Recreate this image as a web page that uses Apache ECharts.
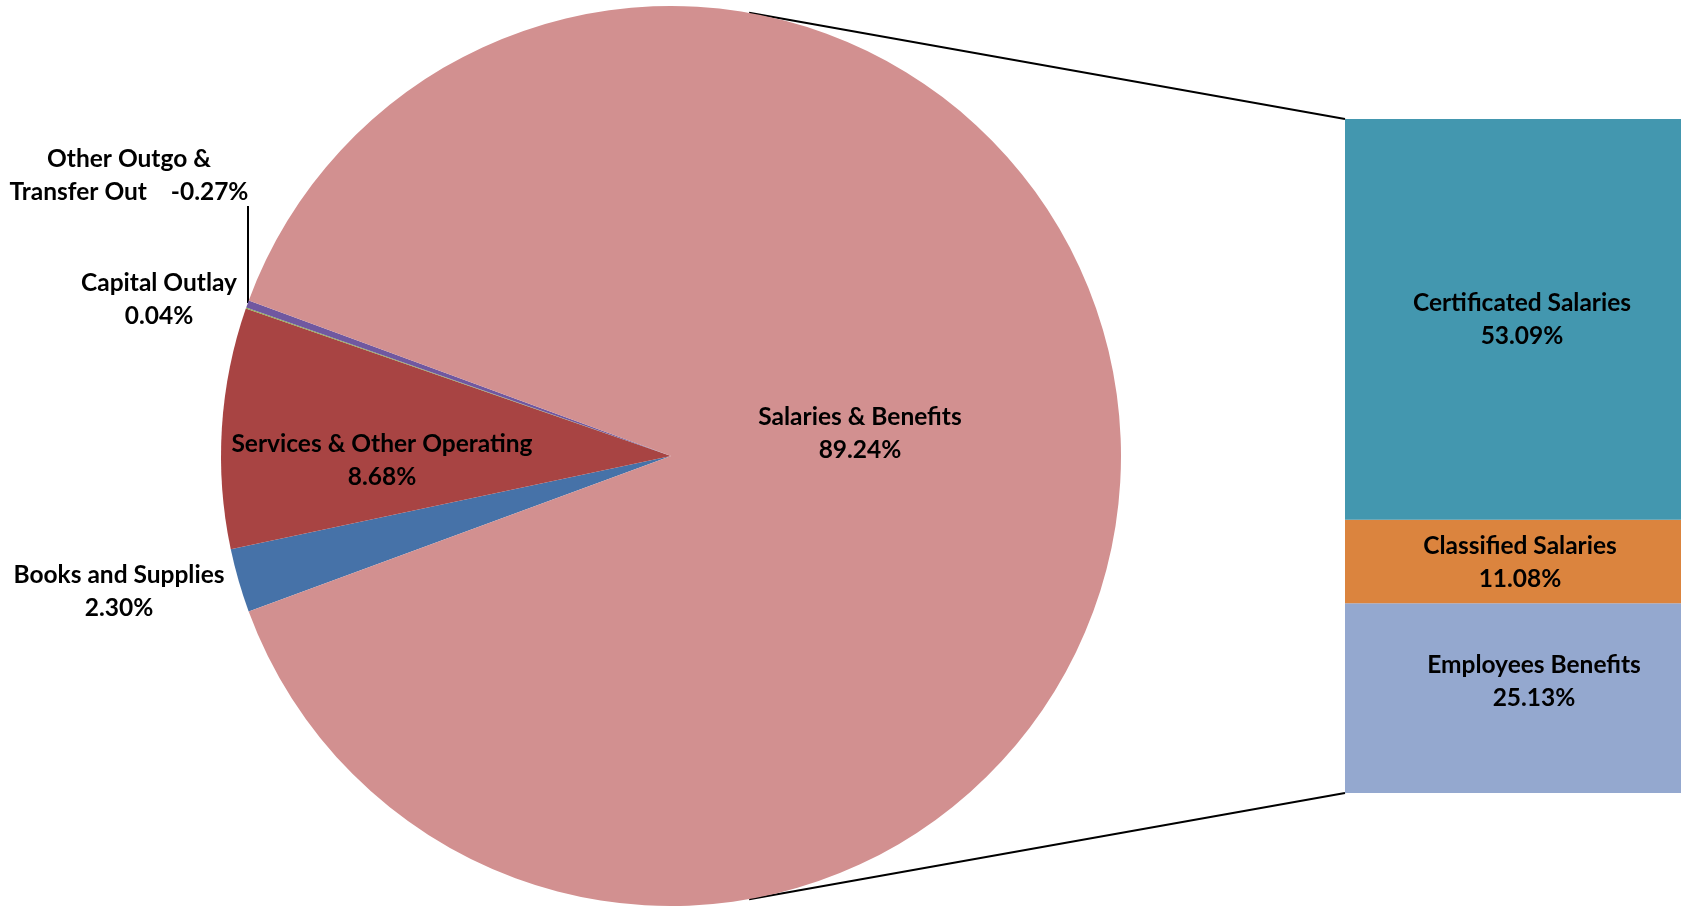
<!DOCTYPE html>
<html>
<head>
<meta charset="utf-8">
<script src="https://cdn.jsdelivr.net/npm/echarts@6/dist/echarts.min.js"></script>
<style>
html,body{margin:0;padding:0;background:#fff;}
#chart{width:1681px;height:906px;}
</style>
</head>
<body>
<div id="chart"></div>
<script>
// ---- data ----
const pieNames = ['Books and Supplies', 'Services & Other Operating', 'Capital Outlay', 'Other Outgo & Transfer Out', 'Salaries & Benefits'];
const piePercents = [2.30, 8.68, 0.04, -0.27, 89.24];
const pieColors = ['#4672A8', '#A84443', '#8FAE4E', '#7058A0', '#D29090'];

const barNames = ['Certificated Salaries', 'Classified Salaries', 'Employees Benefits'];
const barPercents = [53.09, 11.08, 25.13];
const barColors = ['#4397AF', '#DB843E', '#94A8CF'];

// ---- layout ----
const W = 1681, H = 906;
const CX = 671, CY = 456, R = 450;
const BAR_LEFT = 1345, BAR_TOP = 119, BAR_BOTTOM = 793;
const FONT = 'Lato';
const FS = 24.5, LH = 33;

// label centres, as offsets from the pie centre
const pieLabelPos = [
  [-552, 136],   // Books
  [-289, 5],     // Services
  [-512, -156],  // Capital
  [-542, -280],  // Other outgo
  [189, -22]     // Salaries
];
const barLabelOffset = [[9, 0], [7, 1], [21, -17]];

const fmtPct = v => v.toFixed(2) + '%';

const pieData = pieNames.map((n, i) => ({
  name: n,
  value: Math.abs(piePercents[i]),
  itemStyle: { color: pieColors[i] },
  label: {
    formatter: (i === 3 ? 'Other Outgo &\nTransfer Out    ' : n + '\n') + fmtPct(piePercents[i])
  },
  labelLine: { show: i === 3, lineStyle: { color: '#000', width: 2 } }
}));

const total = barPercents.reduce((a, b) => a + b, 0);
// stack from bottom: benefits, classified, certificated
const order = [2, 1, 0];
const barSeries = order.map(i => ({
  type: 'bar',
  name: barNames[i],
  stack: 's',
  barWidth: '100%',
  data: [barPercents[i]],
  itemStyle: { color: barColors[i] },
  silent: true,
  label: {
    show: true,
    position: 'inside',
    offset: barLabelOffset[i],
    formatter: barNames[i] + '\n' + fmtPct(barPercents[i]),
    color: '#000',
    fontFamily: FONT,
    fontWeight: 'bold',
    fontSize: FS,
    lineHeight: LH,
    align: 'center'
  }
}));

const connAngle = 80 * Math.PI / 180;
const p1 = [CX + R * Math.cos(connAngle), CY - R * Math.sin(connAngle)];
const p2 = [CX + R * Math.cos(connAngle), CY + R * Math.sin(connAngle)];

const chart = echarts.init(document.getElementById('chart'), null, { renderer: 'canvas' });
chart.setOption({
  animation: false,
  backgroundColor: '#fff',
  grid: { left: BAR_LEFT, right: 0, top: BAR_TOP, bottom: H - BAR_BOTTOM, containLabel: false },
  xAxis: { type: 'category', data: ['x'], show: false },
  yAxis: { type: 'value', min: 0, max: total, show: false },
  series: [
    {
      type: 'pie',
      center: [CX, CY],
      radius: [0, R],
      startAngle: 200.2,
      clockwise: true,
      silent: true,
      avoidLabelOverlap: false,
      data: pieData,
      label: {
        show: true,
        position: 'outside',
        color: '#000',
        fontFamily: FONT,
        fontWeight: 'bold',
        fontSize: FS,
        lineHeight: LH,
        align: 'center'
      },
      labelLayout: function (params) {
        const i = params.dataIndex;
        const pos = pieLabelPos[i];
        const res = {
          x: CX + pos[0],
          y: CY + pos[1],
          align: 'center',
          verticalAlign: 'middle'
        };
        if (i === 3) {
          const lx = 248;
          res.labelLinePoints = [[lx, 303], [lx, 255], [lx, 206]];
        }
        return res;
      }
    },
    ...barSeries
  ],
  graphic: [
    { type: 'line', silent: true, shape: { x1: p1[0], y1: p1[1], x2: BAR_LEFT, y2: BAR_TOP }, style: { stroke: '#000', lineWidth: 2 } },
    { type: 'line', silent: true, shape: { x1: p2[0], y1: p2[1], x2: BAR_LEFT, y2: BAR_BOTTOM }, style: { stroke: '#000', lineWidth: 2 } }
  ]
});
</script>
</body>
</html>
